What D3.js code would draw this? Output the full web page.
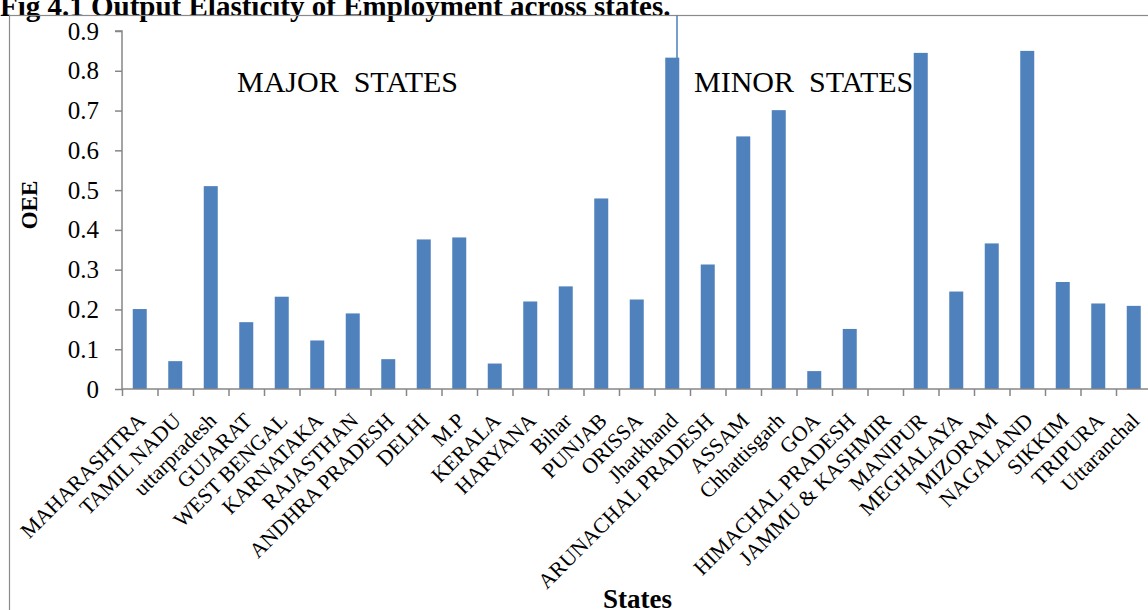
<!DOCTYPE html>
<html>
<head>
<meta charset="utf-8">
<script src="https://cdn.jsdelivr.net/npm/d3@7"></script>
<style>
  body { margin: 0; background: #fff; }
  svg { display: block; font-family: "Liberation Serif", "Times New Roman", serif; }
</style>
</head>
<body>
<div id="chart"></div>
<script>
// categories and values
var states = ["MAHARASHTRA", "TAMIL NADU", "uttarpradesh", "GUJARAT", "WEST BENGAL",
  "KARNATAKA", "RAJASTHAN", "ANDHRA PRADESH", "DELHI", "M.P", "KERALA", "HARYANA",
  "Bihar", "PUNJAB", "ORISSA", "Jharkhand", "ARUNACHAL PRADESH", "ASSAM", "Chhattisgarh",
  "GOA", "HIMACHAL PRADESH", "JAMMU & KASHMIR", "MANIPUR", "MEGHALAYA", "MIZORAM",
  "NAGALAND", "SIKKIM", "TRIPURA", "Uttaranchal"];
var oee = [0.201, 0.070, 0.510, 0.168, 0.232,
  0.122, 0.190, 0.075, 0.376, 0.381, 0.064, 0.220,
  0.258, 0.479, 0.225, 0.833, 0.313, 0.635, 0.701,
  0.045, 0.151, 0, 0.845, 0.245, 0.366,
  0.850, 0.269, 0.215, 0.209];
var yTicks = [0, 0.1, 0.2, 0.3, 0.4, 0.5, 0.6, 0.7, 0.8, 0.9];
var groupLabels = ["MAJOR  STATES", "MINOR  STATES"];

var width = 1148, height = 610;
var plot = {left: 122, top: 31, bottom: 389, step: 35.5};
var plotRight = plot.left + states.length * plot.step;

var svg = d3.select("#chart").append("svg")
    .attr("width", width)
    .attr("height", height);

// title (cut off at the top like the scan)
svg.append("text")
    .attr("x", 0)
    .attr("y", 16)
    .attr("font-size", 29)
    .attr("font-weight", "bold")
    .text("Fig 4.1 Output Elasticity of Employment across states.");

// chart frame
svg.append("rect")
    .attr("x", 9.5).attr("y", 15.5)
    .attr("width", 1200).attr("height", 700)
    .attr("fill", "none")
    .attr("stroke", "#8a8a8a")
    .attr("stroke-width", 1.2);

// scales
var x = d3.scaleBand().domain(states).range([plot.left, plotRight]);
var xEdge = d3.scaleLinear().domain([0, states.length]).range([plot.left, plotRight]);
var y = d3.scaleLinear().domain([0, 0.9]).range([plot.bottom, plot.top]);

// divider line between major and minor states
svg.append("line")
    .attr("x1", 677).attr("x2", 677)
    .attr("y1", 15.5).attr("y2", plot.bottom)
    .attr("stroke", "#4a7ebb")
    .attr("stroke-width", 1.5);

// bars
var barW = 14;
svg.selectAll("rect.bar")
    .data(states)
  .enter().append("rect")
    .attr("class", "bar")
    .attr("x", function(d) { return x(d) + x.bandwidth() / 2 - barW / 2; })
    .attr("y", function(d, i) { return y(oee[i]); })
    .attr("width", barW)
    .attr("height", function(d, i) { return plot.bottom - y(oee[i]); })
    .attr("fill", "#4f81bd");

// y axis
var yAxis = svg.append("g")
    .attr("transform", "translate(" + plot.left + ",0)")
    .call(d3.axisLeft(y).tickValues(yTicks).tickSize(7).tickPadding(16)
      .tickFormat(function(d) { return d === 0 ? "0" : d.toFixed(1); }));
yAxis.selectAll("path, line").attr("stroke", "#868686").attr("stroke-width", 1.5);
yAxis.select(".domain").attr("d", "M-7," + y(0.9) + "H0V" + plot.bottom);
yAxis.selectAll("text")
    .attr("font-family", "Liberation Serif, serif")
    .attr("font-size", 25)
    .attr("fill", "#000");

// x axis (ticks between categories)
var xAxis = svg.append("g")
    .attr("transform", "translate(0," + plot.bottom + ")")
    .call(d3.axisBottom(xEdge).tickValues(d3.range(0, states.length + 1))
      .tickSize(7).tickFormat(""));
xAxis.selectAll("path, line").attr("stroke", "#868686").attr("stroke-width", 1.5);
xAxis.select(".domain").attr("d", "M" + plot.left + ",0H" + plotRight);

// category labels rotated -45
svg.selectAll("text.cat")
    .data(states)
  .enter().append("text")
    .attr("class", "cat")
    .attr("text-anchor", "end")
    .attr("font-size", 21.5)
    .attr("transform", function(d) {
      return "translate(" + (x(d) + x.bandwidth() / 2 + 7) + "," + (plot.bottom + 33) + ") rotate(-45)";
    })
    .text(function(d) { return d; });

// group labels
svg.selectAll("text.grp")
    .data(groupLabels)
  .enter().append("text")
    .attr("class", "grp")
    .attr("x", function(d, i) { return i === 0 ? 237 : 694; })
    .attr("y", 92)
    .attr("font-size", 30)
    .style("white-space", "pre")
    .text(function(d) { return d; });

// axis titles
svg.append("text")
    .attr("transform", "translate(37,205) rotate(-90)")
    .attr("text-anchor", "middle")
    .attr("font-size", 23)
    .attr("font-weight", "bold")
    .text("OEE");

svg.append("text")
    .attr("x", 603)
    .attr("y", 608)
    .attr("font-size", 27)
    .attr("font-weight", "bold")
    .text("States");
</script>
</body>
</html>
